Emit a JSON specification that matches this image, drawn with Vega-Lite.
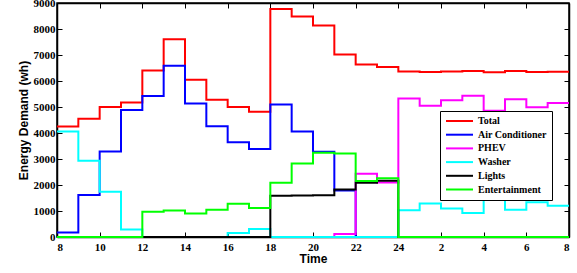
{
  "$schema": "https://vega.github.io/schema/vega-lite/v6.json",
  "width": 512,
  "height": 234,
  "autosize": {"type": "none"},
  "padding": {"left": 57, "top": 3, "right": 8, "bottom": 36},
  "background": "white",
  "config": {
    "view": {"stroke": "black", "strokeWidth": 1.5},
    "axis": {
      "domainColor": "black",
      "domainWidth": 1.5,
      "tickColor": "black",
      "tickWidth": 1,
      "tickSize": -5,
      "grid": false,
      "labelFont": "Liberation Serif",
      "labelFontWeight": "bold",
      "labelFontSize": 11,
      "labelColor": "black",
      "titleFont": "Liberation Sans",
      "titleFontWeight": "bold",
      "titleFontSize": 12,
      "titleColor": "black"
    }
  },
  "data": {
    "values": [
      {"h": 0, "Total": 4250, "Air Conditioner": 170, "PHEV": 0, "Washer": 4060, "Lights": 0, "Entertainment": 0},
      {"h": 1, "Total": 4550, "Air Conditioner": 1620, "PHEV": 0, "Washer": 2930, "Lights": 0, "Entertainment": 0},
      {"h": 2, "Total": 5000, "Air Conditioner": 3290, "PHEV": 0, "Washer": 1740, "Lights": 0, "Entertainment": 0},
      {"h": 3, "Total": 5170, "Air Conditioner": 4880, "PHEV": 0, "Washer": 285, "Lights": 0, "Entertainment": 0},
      {"h": 4, "Total": 6400, "Air Conditioner": 5420, "PHEV": 0, "Washer": 0, "Lights": 0, "Entertainment": 970},
      {"h": 5, "Total": 7610, "Air Conditioner": 6590, "PHEV": 0, "Washer": 0, "Lights": 0, "Entertainment": 1020},
      {"h": 6, "Total": 6050, "Air Conditioner": 5130, "PHEV": 0, "Washer": 0, "Lights": 0, "Entertainment": 900},
      {"h": 7, "Total": 5280, "Air Conditioner": 4260, "PHEV": 0, "Washer": 0, "Lights": 0, "Entertainment": 1045},
      {"h": 8, "Total": 5000, "Air Conditioner": 3640, "PHEV": 0, "Washer": 155, "Lights": 0, "Entertainment": 1280},
      {"h": 9, "Total": 4820, "Air Conditioner": 3380, "PHEV": 0, "Washer": 310, "Lights": 0, "Entertainment": 1120},
      {"h": 10, "Total": 8770, "Air Conditioner": 5100, "PHEV": 0, "Washer": 0, "Lights": 1590, "Entertainment": 2090},
      {"h": 11, "Total": 8480, "Air Conditioner": 4060, "PHEV": 0, "Washer": 0, "Lights": 1600, "Entertainment": 2830},
      {"h": 12, "Total": 8130, "Air Conditioner": 3280, "PHEV": 0, "Washer": 0, "Lights": 1610, "Entertainment": 3240},
      {"h": 13, "Total": 7020, "Air Conditioner": 1790, "PHEV": 115, "Washer": 0, "Lights": 1830, "Entertainment": 3210},
      {"h": 14, "Total": 6630, "Air Conditioner": 0, "PHEV": 2430, "Washer": 0, "Lights": 2090, "Entertainment": 2150},
      {"h": 15, "Total": 6540, "Air Conditioner": 0, "PHEV": 2100, "Washer": 0, "Lights": 2160, "Entertainment": 2260},
      {"h": 16, "Total": 6370, "Air Conditioner": 0, "PHEV": 5330, "Washer": 1030, "Lights": 0, "Entertainment": 0},
      {"h": 17, "Total": 6350, "Air Conditioner": 0, "PHEV": 5050, "Washer": 1290, "Lights": 0, "Entertainment": 0},
      {"h": 18, "Total": 6370, "Air Conditioner": 0, "PHEV": 5260, "Washer": 1100, "Lights": 0, "Entertainment": 0},
      {"h": 19, "Total": 6380, "Air Conditioner": 0, "PHEV": 5430, "Washer": 920, "Lights": 0, "Entertainment": 0},
      {"h": 20, "Total": 6340, "Air Conditioner": 0, "PHEV": 4860, "Washer": 1480, "Lights": 0, "Entertainment": 0},
      {"h": 21, "Total": 6380, "Air Conditioner": 0, "PHEV": 5300, "Washer": 1045, "Lights": 0, "Entertainment": 0},
      {"h": 22, "Total": 6350, "Air Conditioner": 0, "PHEV": 4990, "Washer": 1340, "Lights": 0, "Entertainment": 0},
      {"h": 23, "Total": 6360, "Air Conditioner": 0, "PHEV": 5150, "Washer": 1200, "Lights": 0, "Entertainment": 0},
      {"h": 24, "Total": 6360, "Air Conditioner": 0, "PHEV": 5150, "Washer": 1200, "Lights": 0, "Entertainment": 0}
    ]
  },
  "transform": [
    {"fold": ["Total", "Air Conditioner", "PHEV", "Washer", "Lights", "Entertainment"], "as": ["series", "value"]}
  ],
  "layer": [
    {
      "mark": {"type": "line", "interpolate": "step-after", "strokeWidth": 2},
      "encoding": {
        "x": {
          "field": "h", "type": "quantitative",
          "scale": {"domain": [0, 24], "nice": false},
          "axis": {
            "orient": "bottom",
            "values": [0, 2, 4, 6, 8, 10, 12, 14, 16, 18, 20, 22, 24],
            "labelExpr": "datum.value == 16 ? '24' : '' + ((datum.value + 8) % 24)",
            "labelPadding": 9,
            "title": "Time",
            "titlePadding": 1
          }
        },
        "y": {
          "field": "value", "type": "quantitative",
          "scale": {"domain": [0, 9000], "nice": false},
          "axis": {
            "orient": "left",
            "values": [0, 1000, 2000, 3000, 4000, 5000, 6000, 7000, 8000, 9000],
            "format": "d",
            "labelPadding": 7,
            "title": "Energy Demand (wh)",
            "titlePadding": 3
          }
        },
        "color": {
          "field": "series", "type": "nominal",
          "scale": {
            "domain": ["Total", "Air Conditioner", "PHEV", "Washer", "Lights", "Entertainment"],
            "range": ["#ff0000", "#0000ff", "#ff00ff", "#00ffff", "#000000", "#00ff00"]
          },
          "legend": {
            "title": null,
            "orient": "none",
            "legendX": 383,
            "legendY": 108,
            "symbolType": "M-1,0H5.75",
            "symbolSize": 64,
            "symbolStrokeWidth": 2,
            "labelFont": "Liberation Serif",
            "labelFontWeight": "bold",
            "labelFontSize": 10,
            "labelColor": "black",
            "labelOffset": 23,
            "rowPadding": 3.7,
            "padding": 5,
            "strokeColor": "black",
            "fillColor": "white"
          }
        }
      }
    },
    {
      "mark": {"type": "point", "opacity": 0},
      "encoding": {
        "x": {
          "field": "h", "type": "quantitative",
          "scale": {"domain": [0, 24], "nice": false},
          "axis": {"orient": "top", "values": [0, 2, 4, 6, 8, 10, 12, 14, 16, 18, 20, 22, 24], "labels": false, "title": null}
        },
        "y": {
          "field": "value", "type": "quantitative",
          "scale": {"domain": [0, 9000], "nice": false},
          "axis": {"orient": "right", "values": [0, 1000, 2000, 3000, 4000, 5000, 6000, 7000, 8000, 9000], "labels": false, "title": null}
        }
      }
    }
  ],
  "resolve": {"axis": {"x": "independent", "y": "independent"}}
}
